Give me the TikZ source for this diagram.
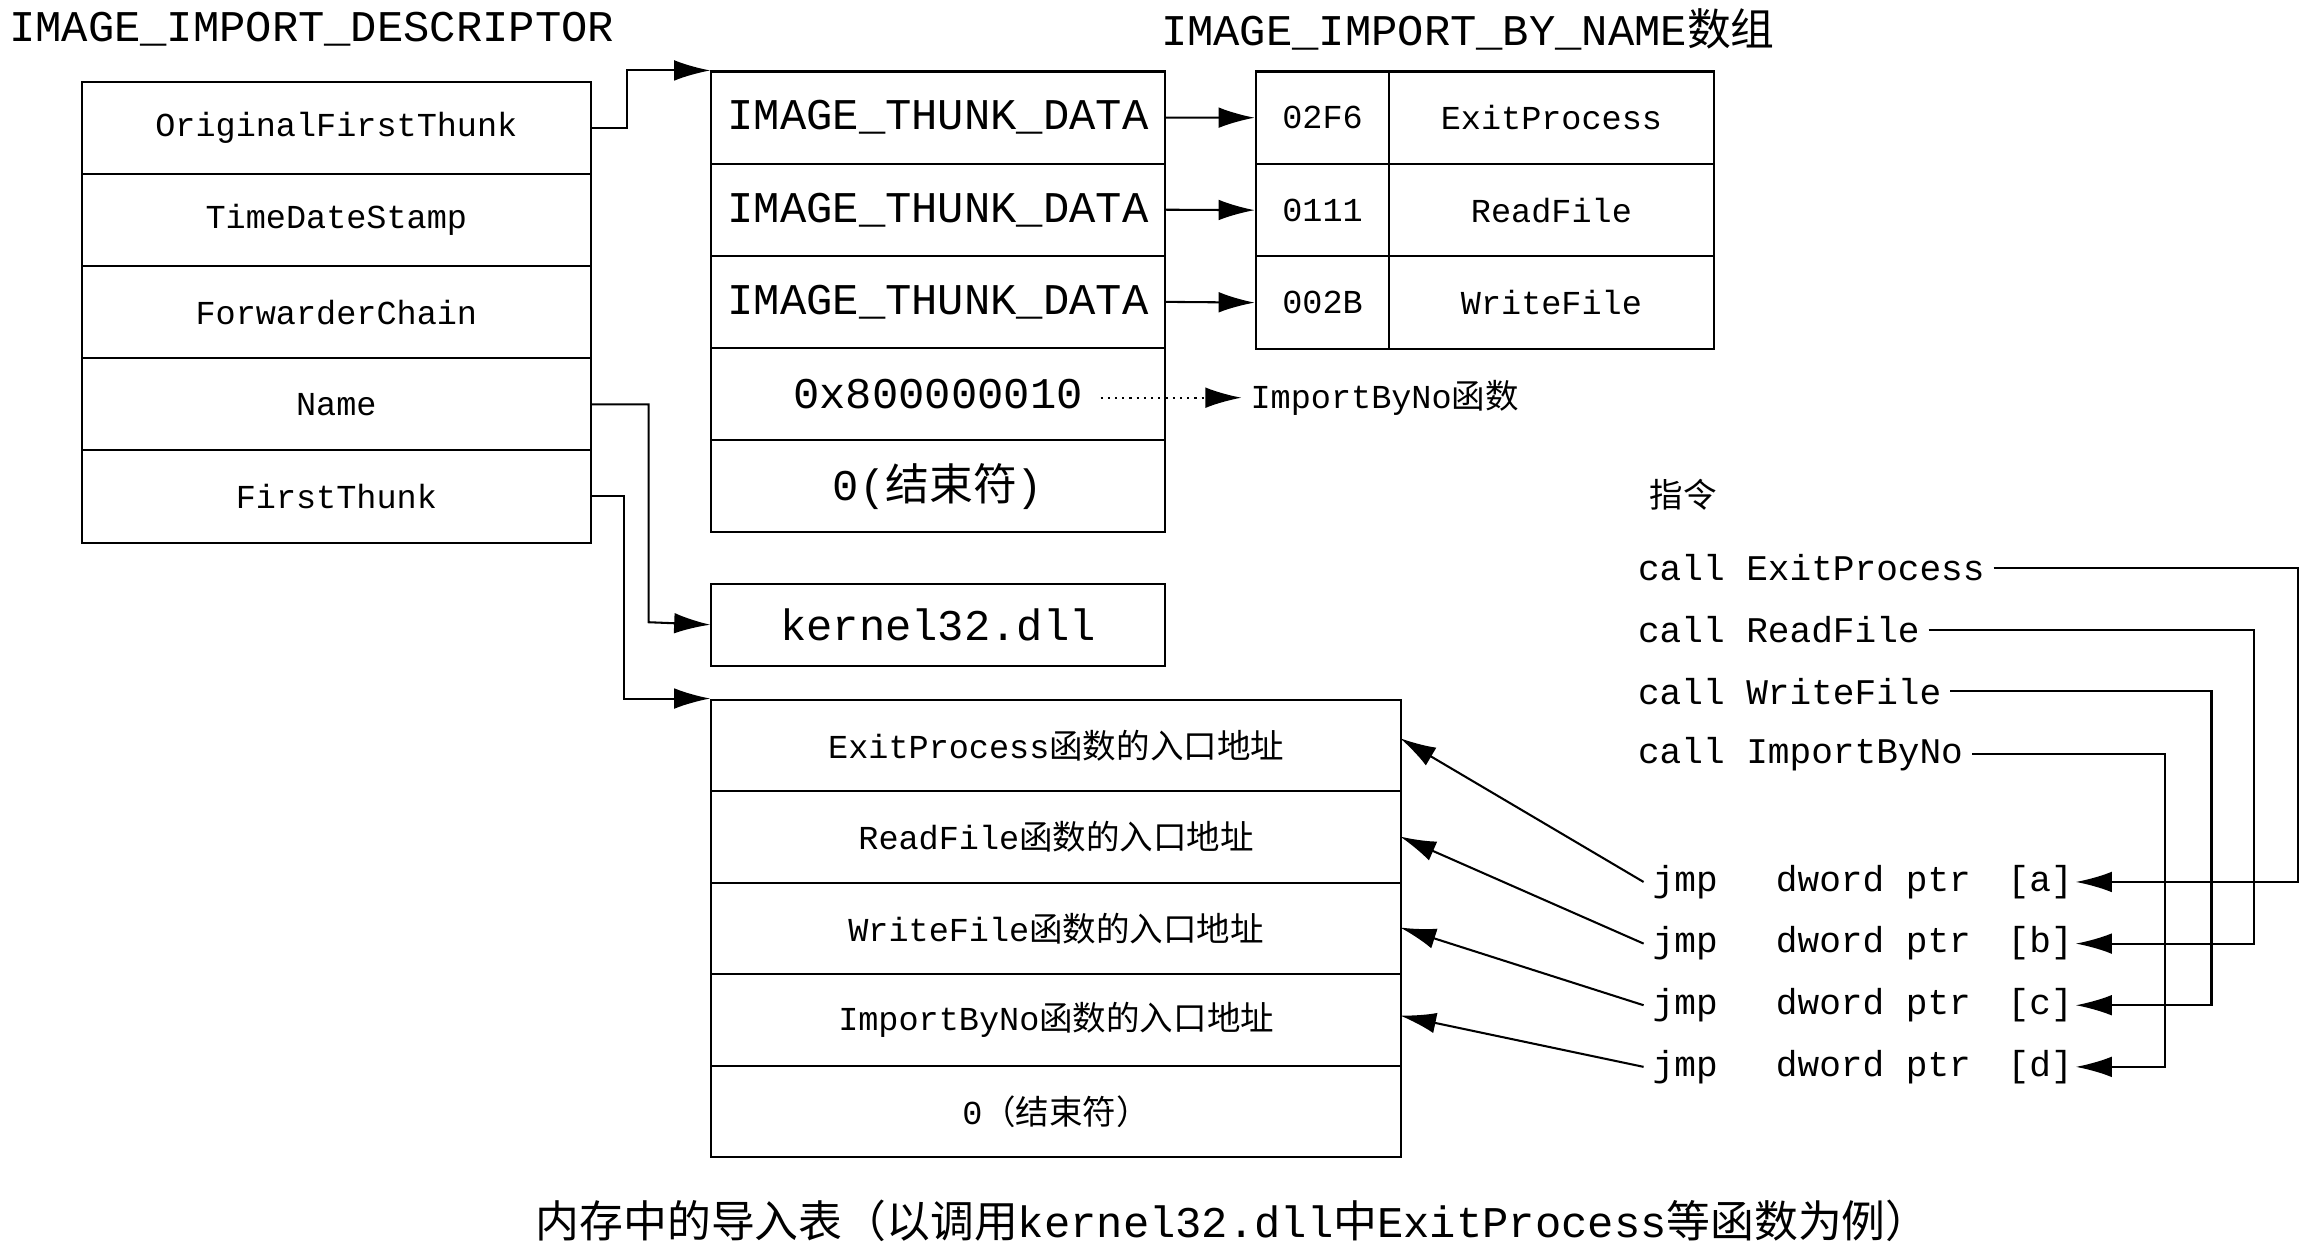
\documentclass[tikz,border=0pt]{standalone}
\usepackage{fontspec}
\setmainfont{Liberation Mono}
\newfontfamily\cjk{Noto Sans CJK SC}
\usetikzlibrary{calc,arrows.meta}
\newcommand{\zh}[1]{{\cjk #1}}
\tikzset{
  cell/.style={draw,thick,anchor=north west,inner sep=0pt,font=\fontsize{13}{15}\selectfont},
  arr/.style={thick,-{Latex[length=14pt,width=8pt]}},
}
\begin{document}
\begin{tikzpicture}[x=0.02cm,y=-0.02cm]
            \useasboundingbox (0,0) rectangle (1568,849);
            % 描述符
            \node[anchor=west,font=\fontsize{17}{19}\selectfont] (tdesc) at (0,20) {IMAGE\_IMPORT\_DESCRIPTOR};
            \foreach \t [count=\i] in {OriginalFirstThunk,TimeDateStamp,ForwarderChain,Name,FirstThunk}
              \node[cell,minimum width=347*0.02cm,minimum height=62.8*0.02cm] (d\i) at (55,{55+62.8*(\i-1)}) {\t};

            % THUNK 数组
            \foreach \t [count=\i] in {IMAGE\_THUNK\_DATA,IMAGE\_THUNK\_DATA,IMAGE\_THUNK\_DATA,0x800000010,{0(\zh{结束符})}}
              \node[cell,font=\fontsize{17}{19}\selectfont,minimum width=309*0.02cm,minimum height=62.8*0.02cm] (t\i) at (484,{48+62.8*(\i-1)}) {\t};

            % IMAGE_IMPORT_BY_NAME
            \node[anchor=west,font=\fontsize{17}{19}\selectfont] (tname) at (785,20) {IMAGE\_IMPORT\_BY\_NAME\zh{数组}};
            \foreach \h/\n [count=\i] in {02F6/ExitProcess,0111/ReadFile,002B/WriteFile}{
              \node[cell,minimum width=91*0.02cm,minimum height=63*0.02cm] (h\i) at (855,{48+63*(\i-1)}) {\h};
              \node[cell,minimum width=221*0.02cm,minimum height=63*0.02cm] (n\i) at (946,{48+63*(\i-1)}) {\n};
            }
            \node[anchor=west,font=\fontsize{13}{15}\selectfont] (ibn) at (846,271) {ImportByNo\zh{函数}};

            % dll 名
            \node[cell,font=\fontsize{17}{19}\selectfont,minimum width=309*0.02cm,minimum height=56*0.02cm] (dll) at (484,397) {kernel32.dll};

            % IAT
            \foreach \t [count=\i] in {ExitProcess,ReadFile,WriteFile,ImportByNo}
              \node[cell,minimum width=470*0.02cm,minimum height=62.4*0.02cm] (a\i) at (484,{476+62.4*(\i-1)}) {\t\zh{函数的入口地址}};
            \node[cell,minimum width=470*0.02cm,minimum height=62.4*0.02cm] (a5) at (484,{476+62.4*4}) {0\zh{（结束符）}};
            \node[font=\fontsize{17}{19}\selectfont] (cap) at (840,832) {\zh{内存中的导入表（以调用}kernel32.dll\zh{中}ExitProcess\zh{等函数为例）}};

            % 指令
            \node[anchor=west,font=\fontsize{13}{15}\selectfont] (ins) at (1118,337) {\zh{指令}};
            \foreach \t/\y [count=\i] in {ExitProcess/387,ReadFile/429,WriteFile/471,ImportByNo/514}
              \node[anchor=west,font=\fontsize{14}{16}\selectfont] (c\i) at (1110,\y) {call \t};
            \foreach \l/\y [count=\i] in {a/601,b/643,c/685,d/727}{
              \node[anchor=west,font=\fontsize{14}{16}\selectfont] (j\i) at (1120,\y) {jmp};
              \node[anchor=west,font=\fontsize{14}{16}\selectfont] at (1204,\y) {dword ptr};
              \node[anchor=west,font=\fontsize{14}{16}\selectfont,inner xsep=1pt] (r\i) at (1366,\y) {[\l]};
            }

            % 连线
            \draw[arr] (d1.east) -- (427,0|-d1.east) -- (427,48) -- (t1.north west);
            \draw[arr] (d4.east) -- (442,0|-d4.east) -- (442,424) -- (dll.west);
            \draw[arr] (d5.east) -- (425,0|-d5.east) -- (425,476) -- (a1.north west);
            \foreach \i in {1,2,3}
              \draw[arr] (t\i.east) -- (h\i.west);
            \draw[thick,dotted,-{Latex[length=14pt,width=8pt]}] (750,271) -- (ibn.west);
            \foreach \i/\x in {1/1566,2/1536,3/1507,4/1475}
              \draw[arr] (c\i.east) -- (\x,0|-c\i.east) -- (\x,0|-r\i.east) -- (r\i.east);
            \foreach \i/\y in {1/503,2/570,3/632,4/692}
              \draw[arr] (j\i.west) -- (954,\y);
        \end{tikzpicture}
\end{document}
